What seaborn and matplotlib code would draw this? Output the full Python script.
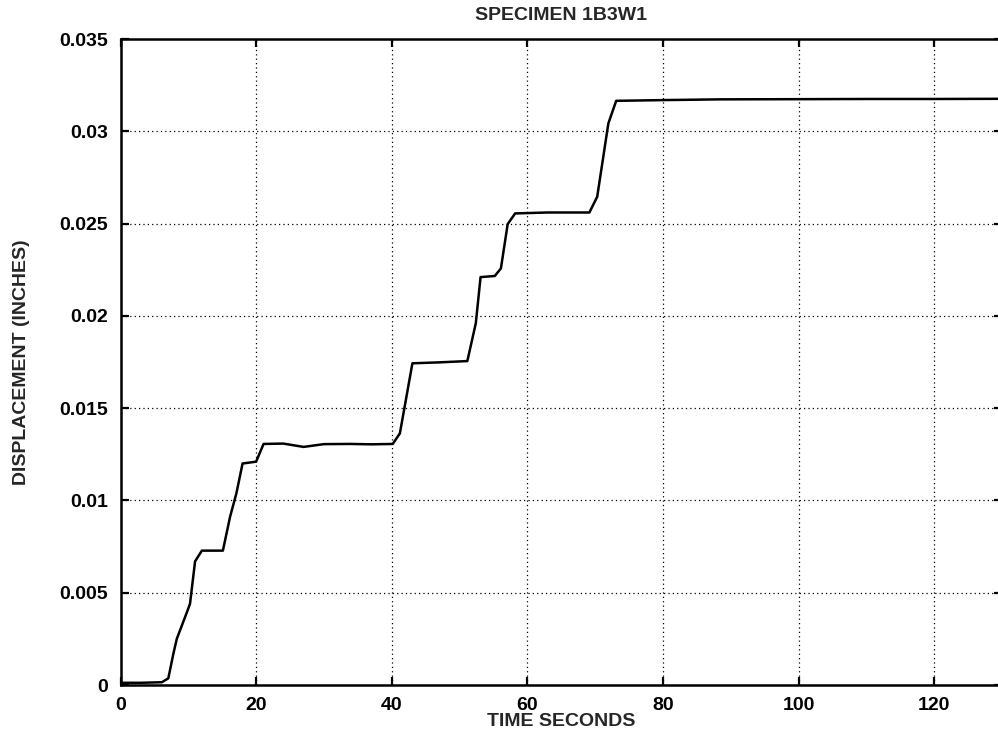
import matplotlib
matplotlib.use("Agg")
import matplotlib.pyplot as plt
import seaborn as sns
import pandas as pd

# Displacement history of specimen 1B3W1
time_s = [0, 3, 6.1, 7.05, 7.8, 8.3, 9.75, 10.25, 11.0, 12.0, 15.1, 16.15, 17.1,
          18.0, 20.0, 21.1, 24, 27, 30, 33.85, 37, 40.15, 41.2, 43.05, 47,
          51.15, 52.4, 53.1, 55.2, 56.1, 57.1, 58.2, 63, 67.8, 69.15, 70.3,
          71.95, 73.1, 80.05, 88.4, 100, 110, 120, 130]
displacement_in = [0.00012, 0.00012, 0.00015, 0.00036, 0.0017, 0.0025, 0.0039,
                   0.0044, 0.0067, 0.00728, 0.00728, 0.0091, 0.0104, 0.0120,
                   0.0121, 0.01306, 0.01308, 0.0129, 0.01305, 0.01306, 0.01304,
                   0.01306, 0.01363, 0.01743, 0.01748, 0.01755, 0.0196, 0.0221,
                   0.02216, 0.02257, 0.02497, 0.02555, 0.0256, 0.0256, 0.0256,
                   0.02645, 0.03043, 0.03165, 0.03169, 0.03173, 0.03174,
                   0.03175, 0.03175, 0.03176]

x_ticks = [0, 20, 40, 60, 80, 100, 120]
x_tick_labels = ["0", "20", "40", "60", "80", "100", "120"]
y_ticks = [0, 0.005, 0.01, 0.015, 0.02, 0.025, 0.03, 0.035]
y_tick_labels = ["0", "0.005", "0.01", "0.015", "0.02", "0.025", "0.03", "0.035"]

df = pd.DataFrame({"t": time_s, "d": displacement_in})

sns.set_style("white")
plt.rcParams["font.family"] = ["Liberation Sans", "DejaVu Sans"]
plt.rcParams["font.weight"] = "bold"

fig = plt.figure(figsize=(9.98, 7.39), dpi=100)
W, H = 998, 739
left, right, top, bottom = 120.5, 1002, 39, 685
ax = fig.add_axes([left / W, 1 - bottom / H, (right - left) / W, (bottom - top) / H])

sns.lineplot(data=df, x="t", y="d", ax=ax, color="black", linewidth=1.8)

ax.set_xlim(0, 130)
ax.set_ylim(0, 0.035)
ax.set_xticks(x_ticks)
ax.set_xticklabels(x_tick_labels)
ax.set_yticks(y_ticks)
ax.set_yticklabels(y_tick_labels)

ax.grid(True, linestyle=(0, (1, 2.5)), color="black", linewidth=0.9)
ax.set_axisbelow(False)

for side in ["left", "bottom", "top", "right"]:
    ax.spines[side].set_color("black")
    ax.spines[side].set_linewidth(1.8)

ax.tick_params(axis="both", which="major", direction="in", length=6, width=1.6,
               labelsize=14, pad=9, colors="black",
               top=True, right=True, left=True, bottom=True)

ax.set_title("SPECIMEN 1B3W1", fontsize=14, fontweight="bold", pad=14)
ax.set_xlabel("TIME SECONDS", fontsize=14, fontweight="bold")
ax.set_ylabel("DISPLACEMENT (INCHES)", fontsize=14, fontweight="bold")
ax.xaxis.set_label_coords(0.5, (bottom - 713) / (bottom - top))
ax.xaxis.label.set_va("top")
ax.yaxis.set_label_coords((22 - left) / (right - left), 0.5)
ax.yaxis.label.set_va("center")

fig.savefig("out.png", dpi=100)
